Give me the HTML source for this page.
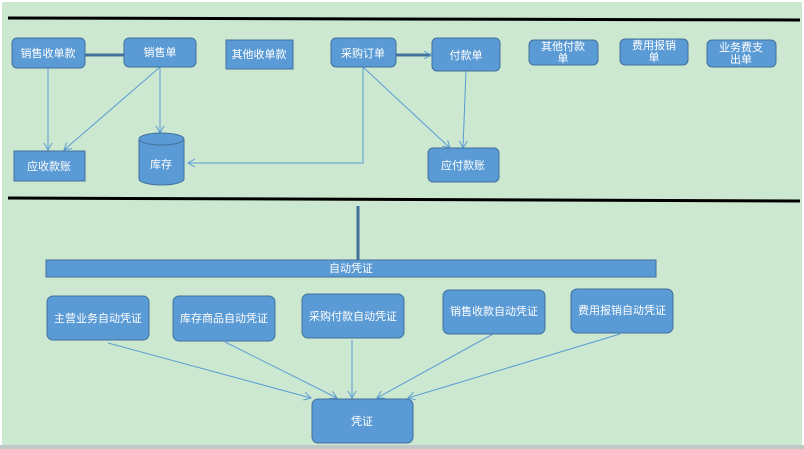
<!DOCTYPE html>
<html><head><meta charset="utf-8"><style>
html,body{margin:0;padding:0;width:804px;height:449px;overflow:hidden;background:#fff}
svg{display:block}
text{font-family:"Liberation Sans","Noto Sans CJK SC",sans-serif;fill:#fff;font-size:11px;text-anchor:middle}
.b{fill:#5b9bd5;stroke:#41719c;stroke-width:1}
.l{stroke:#5b9bd5;stroke-width:1;fill:none}
</style></head><body>
<svg width="804" height="449" viewBox="0 0 804 449">
<defs><marker id="a" markerWidth="10" markerHeight="10" refX="8" refY="5" orient="auto" markerUnits="userSpaceOnUse"><path d="M1,1 L8,5 L1,9" fill="none" stroke="#5b9bd5" stroke-width="1"/></marker></defs>
<rect x="2" y="2" width="800" height="444" fill="#cde8d0"/>
<rect x="0" y="445" width="804" height="4" fill="#c0c8c8"/>
<line x1="8" y1="18" x2="800" y2="20" stroke="#000" stroke-width="3"/>
<line x1="8" y1="198" x2="800" y2="201" stroke="#000" stroke-width="3"/>
<!-- top connectors -->
<line x1="85" y1="55" x2="124" y2="55" stroke="#41719c" stroke-width="3"/>
<line x1="396" y1="55" x2="431" y2="55" stroke="#41719c" stroke-width="3" marker-end="url(#a)"/>
<line class="l" x1="48" y1="67" x2="48" y2="150" marker-end="url(#a)"/>
<line class="l" x1="160" y1="67" x2="64" y2="150" marker-end="url(#a)"/>
<line class="l" x1="160" y1="67" x2="160" y2="133" marker-end="url(#a)"/>
<polyline class="l" points="363,67 363,163 188,163" marker-end="url(#a)"/>
<line class="l" x1="363" y1="67" x2="450" y2="148" marker-end="url(#a)"/>
<line class="l" x1="466" y1="71" x2="463" y2="148" marker-end="url(#a)"/>
<!-- top boxes -->
<rect class="b" x="12" y="38" width="73" height="30" rx="5"/><text x="48" y="57">销售收单款</text>
<rect class="b" x="124" y="38" width="72" height="29" rx="5"/><text x="160" y="56">销售单</text>
<rect class="b" x="226" y="40" width="67" height="29"/><text x="259" y="58">其他收单款</text>
<rect class="b" x="331" y="38" width="65" height="29" rx="5"/><text x="363" y="57">采购订单</text>
<rect class="b" x="432" y="38" width="68" height="33" rx="5"/><text x="466" y="59">付款单</text>
<rect class="b" x="529" y="40" width="69" height="25" rx="5"/><text x="563" y="50">其他付款</text><text x="563" y="62">单</text>
<rect class="b" x="620" y="39" width="68" height="26" rx="5"/><text x="654" y="49">费用报销</text><text x="654" y="61">单</text>
<rect class="b" x="707" y="40" width="69" height="27" rx="5"/><text x="741" y="51">业务费支</text><text x="741" y="63">出单</text>
<rect class="b" x="14" y="151" width="71" height="30"/><text x="49" y="170">应收款账</text>
<path class="b" d="M139,139 A22.5,6 0 0 1 184,139 L184,179 A22.5,6 0 0 1 139,179 Z"/>
<path d="M139,139 A22.5,6 0 0 0 184,139" fill="none" stroke="#41719c"/>
<text x="161" y="168">库存</text>
<rect class="b" x="428" y="148" width="71" height="34" rx="5"/><text x="463" y="169">应付款账</text>
<!-- bottom -->
<line x1="358" y1="206" x2="358" y2="260" stroke="#41719c" stroke-width="3"/>
<rect class="b" x="46" y="260" width="610" height="17"/><text x="351" y="272">自动凭证</text>
<line class="l" x1="108" y1="343" x2="311" y2="398" marker-end="url(#a)"/>
<line class="l" x1="225" y1="342" x2="337" y2="398" marker-end="url(#a)"/>
<line class="l" x1="352" y1="340" x2="352" y2="398" marker-end="url(#a)"/>
<line class="l" x1="493" y1="334" x2="377" y2="398" marker-end="url(#a)"/>
<line class="l" x1="620" y1="334" x2="408" y2="398" marker-end="url(#a)"/>
<rect class="b" x="47" y="296" width="102" height="44" rx="6"/><text x="98" y="322">主营业务自动凭证</text>
<rect class="b" x="173" y="296" width="102" height="45" rx="6"/><text x="224" y="322">库存商品自动凭证</text>
<rect class="b" x="302" y="294" width="102" height="44" rx="6"/><text x="353" y="320">采购付款自动凭证</text>
<rect class="b" x="443" y="290" width="102" height="44" rx="6"/><text x="494" y="315">销售收款自动凭证</text>
<rect class="b" x="571" y="289" width="102" height="44" rx="6"/><text x="622" y="314">费用报销自动凭证</text>
<rect class="b" x="312" y="399" width="101" height="44" rx="6"/><text x="362" y="425">凭证</text>
</svg>
</body></html>
